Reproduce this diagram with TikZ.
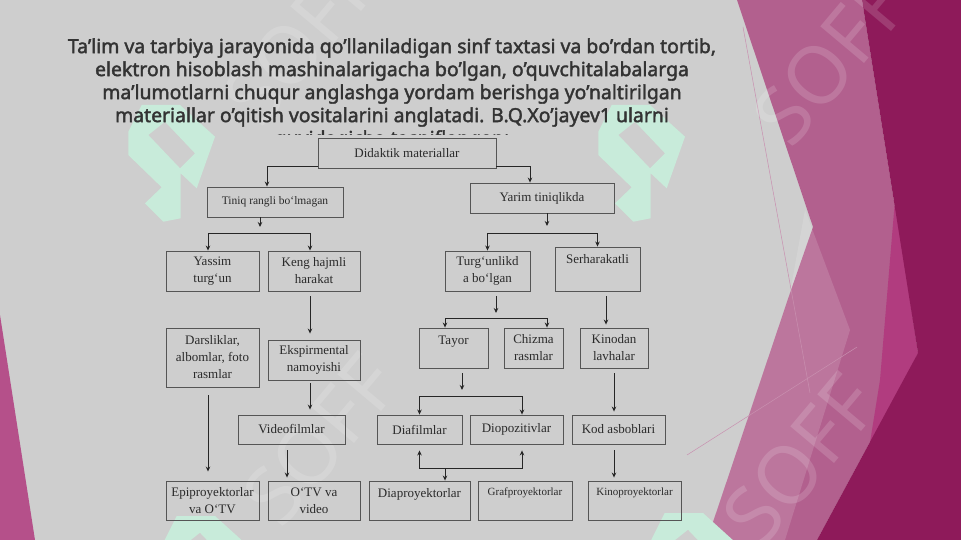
\documentclass[tikz,border=0pt]{standalone}
\usepackage{fontspec}
\setmainfont{Liberation Serif}
\newfontfamily\titlefont{Noto Sans}[FakeBold=2]
\newfontfamily\markfont{Noto Sans}
\usepackage{xcolor}
\usetikzlibrary{arrows.meta, calc, positioning}

\definecolor{slidegray}{HTML}{CECECE}
\definecolor{pinkmid}{HTML}{B2608E}
\definecolor{pinkdark}{HTML}{8E1A5A}
\definecolor{pinkbright}{HTML}{B13C7F}
\definecolor{pinkleft}{HTML}{B5508A}
\definecolor{logogreen}{HTML}{C8EBDA}
\definecolor{titlegray}{HTML}{333333}
\definecolor{boxline}{HTML}{555555}
\definecolor{boxtext}{HTML}{2A2A2A}

\begin{document}
\begin{tikzpicture}[x=1pt, y=-1pt,
  box/.style={draw=boxline, line width=0.9pt, text=boxtext, align=center,
    font=\fontsize{13}{17}\selectfont, inner sep=1pt},
  smallbox/.style={box, font=\fontsize{11}{14}\selectfont},
  arr/.style={draw=black!85, line width=0.9pt, -{Stealth[length=5pt,width=4.5pt]}},
  arrs/.style={draw=black!85, line width=0.9pt, {Stealth[length=5pt,width=4.5pt]}-{Stealth[length=5pt,width=4.5pt]}},
  wmark/.style={white, opacity=0.15, font=\markfont\fontsize{80}{80}\selectfont}
]
  % slide background
  \useasboundingbox (0,0) rectangle (961,540);
  \fill[slidegray] (0,0) rectangle (961,540);

  % right side decoration
  \fill[pinkmid] (737,0) -- (862,0) -- (918,353) -- (817,540) -- (707,540)
    -- (790,293) -- (813,227) -- cycle;
  \fill[white, opacity=0.14] (805,210) -- (850,330) -- (785,540) -- (707,540)
    -- (790,293) -- cycle;
  \fill[pinkbright] (895,200) -- (918,353) -- (868,455) -- (880,380) -- cycle;
  \fill[pinkdark] (862,0) -- (961,0) -- (961,540) -- (817,540) -- (918,353) -- cycle;
  \draw[pinkmid!70!white, line width=0.5pt] (743,27) -- (810,393);
  \draw[pinkmid!70!white, line width=0.5pt] (687,455) -- (857,347);

  % left side strip
  \fill[pinkleft] (0,315) -- (35,540) -- (0,540) -- cycle;

  % watermark logos
  \foreach \lx/\ly in {127/103, 597/103, 162/514, 650/511} {
    \fill[logogreen, even odd rule, shift={(\lx,\ly)}]
      (14.7,2) -- (53,2) -- (88,33.7) -- (69.7,85.3) -- (53.7,70.3) -- (53.7,115.3)
      -- (36.3,118.7) -- (18,100.3) -- (34.7,84.3) -- (1.3,52) -- (1.3,28.7) -- cycle
      (21.3,32) -- (38,18.7) -- (68,50.3) -- (53,65.3) -- cycle;
  }

  % watermark text
  \node[wmark, rotate=50] (markA) at (320,440) {SOFF};
  \node[wmark, rotate=50] (markB) at (300,40) {SOFF};
  \node[wmark, rotate=50] (markC) at (830,60) {SOFF};
  \node[wmark, rotate=50] (markD) at (800,460) {SOFF};

  % title text, last line cut by the chart
  \begin{scope}
    \clip (0,0) rectangle (961,134.5);
    \node[text=titlegray, align=center,
      font=\titlefont\fontsize{19.4}{23}\selectfont] (title) at (392,94)
      {Ta’lim va tarbiya jarayonida qo’llaniladigan sinf taxtasi va bo’rdan tortib,\\
       elektron hisoblash mashinalarigacha bo’lgan, o’quvchitalabalarga\\
       ma’lumotlarni chuqur anglashga yordam berishga yo’naltirilgan\\
       materiallar o’qitish vositalarini anglatadi. B.Q.Xo’jayev1 ularni\\
       quyidagicha tasniflangan:};
  \end{scope}

  % boxes
  \node[box, minimum width=178, minimum height=30] (dm) at (407,153) {Didaktik materiallar};
  \node[box, minimum width=136, minimum height=30, font=\fontsize{11.5}{14}\selectfont] (tiniq) at (275,202) {Tiniq rangli bo`lmagan};
  \node[box, minimum width=144, minimum height=30] (yarim) at (542,198) {Yarim tiniqlikda};

  \node[box, minimum width=93, minimum height=40] (yassim) at (212.5,271) {Yassim\\turg`un};
  \node[box, minimum width=92, minimum height=40] (keng) at (314,271) {Keng hajmli\\harakat};
  \node[box, minimum width=85, minimum height=40] (turg) at (487.5,271) {Turg`unlikd\\a bo`lgan};
  \node[box, minimum width=85, minimum height=44, text depth=20pt] (serh) at (597.5,269) {Serharakatli};

  \node[box, minimum width=93, minimum height=59] (darsl) at (212.5,357.5) {Darsliklar,\\albomlar, foto\\rasmlar};
  \node[box, minimum width=92, minimum height=40] (ekspr) at (314,360) {Ekspirmental\\namoyishi};
  \node[box, minimum width=69, minimum height=40, text depth=15pt] (tayor) at (453.5,348) {Tayor};
  \node[box, minimum width=59, minimum height=40] (chizma) at (533.5,348) {Chizma\\rasmlar};
  \node[box, minimum width=68, minimum height=40] (kinodan) at (614,348) {Kinodan\\lavhalar};

  \node[box, minimum width=107, minimum height=29] (video) at (291.5,429.5) {Videofilmlar};
  \node[box, minimum width=85, minimum height=29] (diaf) at (419.5,429.5) {Diafilmlar};
  \node[box, minimum width=93, minimum height=29] (diop) at (516.5,429.5) {Diopozitivlar};
  \node[box, minimum width=93, minimum height=29] (kod) at (618.5,429.5) {Kod asboblari};

  \node[box, minimum width=93, minimum height=39] (epi) at (212.5,500.5) {Epiproyektorlar\\va O`TV};
  \node[box, minimum width=92, minimum height=39] (otv) at (314,500.5) {O`TV va\\video};
  \node[box, minimum width=101, minimum height=39, text depth=16pt] (diapr) at (419.5,500.5) {Diaproyektorlar};
  \node[smallbox, minimum width=94, minimum height=39, text depth=17pt] (grafp) at (525,500.5) {Grafproyektorlar};
  \node[smallbox, minimum width=93, minimum height=39, text depth=17pt] (kinop) at (634.5,500.5) {Kinoproyektorlar};

  % split points
  \coordinate (tstem) at (260,227);
  \coordinate (tbar) at (0,233);
  \coordinate (ystem) at (547,226);
  \coordinate (ybar) at (0,233);
  \coordinate (ustem) at (496,313);
  \coordinate (ubar) at (0,318);
  \coordinate (astem) at (462,390);
  \coordinate (abar) at (0,396);
  \coordinate (pbar) at (0,468);

  % first level
  \draw[arr] ($(dm.south west)+(0,-2)$) -| ($(tiniq.north)+(-8,0)$);
  \draw[arr] ($(dm.south east)+(0,-2)$) -| ($(yarim.north)+(-12,0)$);

  % second level
  \draw[arr] (tiniq.south -| tstem) -- (tstem);
  \draw[arrs] ([xshift=-4.5pt]yassim.north) -- ([xshift=-4.5pt]yassim.north |- tbar)
    -| ([xshift=-4pt]keng.north);
  \draw[arr] (yarim.south -| ystem) -- (ystem);
  \draw[arrs] (turg.north) -- (turg.north |- ybar) -| (serh.north);

  % third level
  \draw[arr, shorten <=5pt, shorten >=6pt] ([xshift=-4pt]keng.south) -- ([xshift=-4pt]ekspr.north);
  \draw[arr, shorten <=5pt] (turg.south -| ustem) -- (ustem);
  \draw[arrs] ([xshift=-8.5pt]tayor.north) -- ([xshift=-8.5pt]tayor.north |- ubar)
    -| ([xshift=13.5pt]chizma.north);
  \draw[arr, shorten <=5pt, shorten >=3pt] ([xshift=8.5pt]serh.south) -- ([xshift=-8pt]kinodan.north);

  % fourth level
  \draw[arr, shorten <=5pt] (tayor.south -| astem) -- (astem);
  \draw[arrs] (diaf.north) -- (diaf.north |- abar) -| ([xshift=5.5pt]diop.north);
  \draw[arr, shorten <=3pt, shorten >=5pt] ([xshift=-4pt]ekspr.south) -- ([xshift=-4pt]ekspr.south |- video.north);
  \draw[arr, shorten <=8pt, shorten >=9pt] ([xshift=-4.5pt]darsl.south) -- ([xshift=-4.5pt]epi.north);
  \draw[arr, shorten <=5pt, shorten >=3pt] (kinodan.south) -- ([xshift=-4.5pt]kod.north);

  % last level
  \draw[arr, shorten <=6pt, shorten >=3pt] ([xshift=-4.5pt]video.south) -- ([xshift=-27pt]otv.north);
  \draw[arr, shorten <=6pt, shorten >=3pt] ([xshift=-4.5pt]kod.south) -- ([xshift=-20.5pt]kinop.north);
  \draw[arrs, shorten <=6pt, shorten >=6pt] (diaf.south) -- (diaf.south |- pbar)
    -| ([xshift=5.5pt]diop.south);
  \draw[arr] ([xshift=25.5pt]diapr.north |- pbar) -- ([xshift=25.5pt]diapr.north);
\end{tikzpicture}
\end{document}
